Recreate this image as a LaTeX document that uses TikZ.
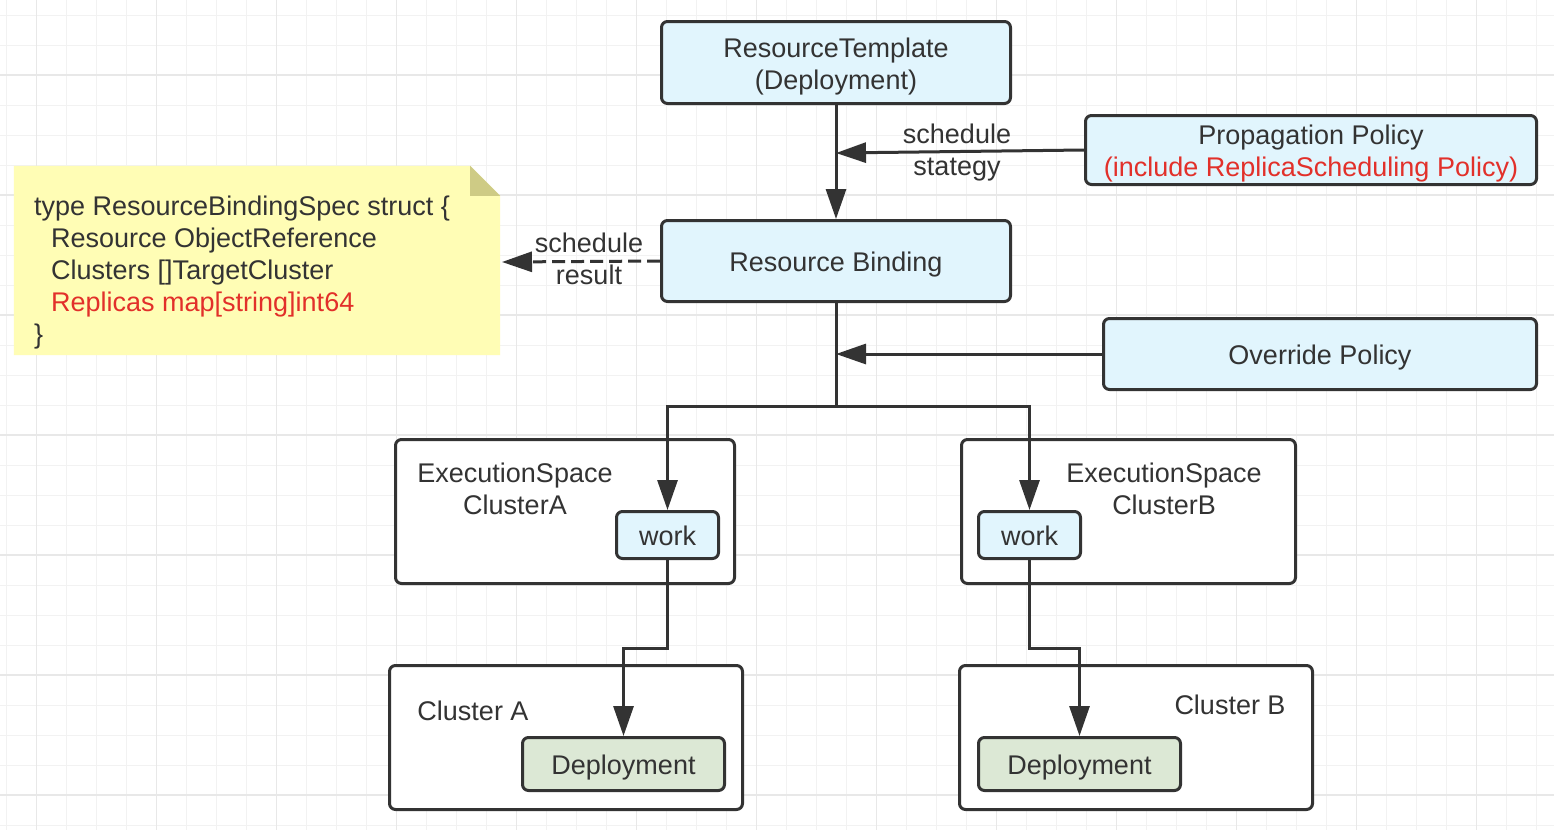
\documentclass[tikz,border=0pt]{standalone}
\usepackage{fontspec}
\setmainfont{Liberation Sans}
\usetikzlibrary{arrows.meta,calc}
\definecolor{ink}{HTML}{333333}
\definecolor{boxblue}{HTML}{E1F5FD}
\definecolor{depgreen}{HTML}{DCE8D5}
\definecolor{notey}{HTML}{FFFDB5}
\definecolor{notefold}{HTML}{CECB85}
\definecolor{redtxt}{HTML}{E2302A}
\definecolor{gridminor}{HTML}{F2F2F2}
\definecolor{gridmajor}{HTML}{E8E8E8}
\tikzset{
  box/.style={draw=ink, line width=3pt, rounded corners=6pt, inner sep=0pt},
  bluebox/.style={box, fill=boxblue},
  greenbox/.style={box, fill=depgreen},
  framebox/.style={box, fill=white},
  lbl/.style={text=ink, font=\fontsize{27}{32}\selectfont, align=center, inner sep=0pt},
  boxtext/.style={label={[lbl, yshift=-4pt]center:{#1}}},
  conn/.style={draw=ink, line width=3pt},
  arr/.style={conn, -{Triangle[length=30pt,width=20pt]}},
  gminor/.style={gridminor, line width=1pt},
  gmajor/.style={gridmajor, line width=1.2pt}
}
\begin{document}
\begin{tikzpicture}[x=1pt,y=-1pt]
\useasboundingbox (0,0) rectangle (1554,830);
\fill[white] (0,0) rectangle (1554,830);
% grid
\foreach \i in {0,...,51} \draw[gminor] ({6.7+30*\i},0) -- ({6.7+30*\i},830);
\foreach \i in {0,...,27} \draw[gminor] (0,{15+30*\i}) -- (1554,{15+30*\i});
\foreach \i in {0,...,12} \draw[gmajor] ({36.7+120*\i},0) -- ({36.7+120*\i},830);
\foreach \i in {0,...,6} \draw[gmajor] (0,{75+120*\i}) -- (1554,{75+120*\i});

% main boxes
\node[bluebox, minimum width=349pt, minimum height=82pt, boxtext={ResourceTemplate\\(Deployment)}] (rt) at (836,62.5) {};
\node[bluebox, minimum width=349pt, minimum height=81pt, boxtext={Resource Binding}] (rb) at (836,261) {};
\node[bluebox, minimum width=451pt, minimum height=69pt, boxtext={Propagation Policy\\\textcolor{redtxt}{(include ReplicaScheduling Policy)}}] (pp) at (1311,150) {};
\node[bluebox, minimum width=433pt, minimum height=71pt, boxtext={Override Policy}] (op) at (1320,354) {};

% note
\node[minimum width=486pt, minimum height=189pt, inner sep=0pt] (note) at (257,260.5) {};
\fill[notey] (note.north west) -- ($(note.north east)+(-30,0)$) -- ($(note.north east)+(0,30)$) -- (note.south east) -- (note.south west) -- cycle;
\fill[notefold] ($(note.north east)+(-30,0)$) -- ($(note.north east)+(0,30)$) -- ($(note.north east)+(-30,30)$) -- cycle;
\node[lbl, align=left, anchor=west] (notetxt) at (34,273) {type ResourceBindingSpec struct \{\\
\hspace*{17pt}Resource ObjectReference\\
\hspace*{17pt}Clusters []TargetCluster\\
\hspace*{17pt}\textcolor{redtxt}{Replicas map[string]int64}\\
\}};

% execution spaces and clusters
\node[framebox, minimum width=339pt, minimum height=144pt] (esA) at (565,511.5) {};
\node[lbl] (esAt) at (515,489) {ExecutionSpace\\ClusterA};
\node[bluebox, minimum width=102pt, minimum height=47pt, label={[lbl, yshift=-1pt]center:work}] (workA) at (667.5,535) {};
\node[framebox, minimum width=353pt, minimum height=144pt] (clA) at (566,737.5) {};
\node[lbl] (clAt) at (473,711) {Cluster A};
\node[greenbox, minimum width=202pt, minimum height=53pt, boxtext={Deployment}] (depA) at (623.5,764) {};

\node[framebox, minimum width=334pt, minimum height=144pt] (esB) at (1128.5,511.5) {};
\node[lbl] (esBt) at (1164,489) {ExecutionSpace\\ClusterB};
\node[bluebox, minimum width=102pt, minimum height=47pt, label={[lbl, yshift=-1pt]center:work}] (workB) at (1029.5,535) {};
\node[framebox, minimum width=353pt, minimum height=144pt] (clB) at (1136,737.5) {};
\node[lbl] (clBt) at (1230,705) {Cluster B};
\node[greenbox, minimum width=202pt, minimum height=53pt, boxtext={Deployment}] (depB) at (1079.5,764) {};

% junction coordinates
\coordinate (j1) at (836,153);
\coordinate (j2) at (836,354);
\coordinate (split) at (836,406);
\coordinate (noteE) at (502,262);
\coordinate (bendA) at (623.5,648);
\coordinate (bendB) at (1079.5,648);

% connectors
\draw[arr] (rt.south) -- (rb.north);
\draw[arr] (pp.west) -- (j1);
\draw[arr, dash pattern=on 13pt off 6pt] (rb.west) -- (noteE);
\draw[conn] (rb.south) -- (split);
\draw[arr] (op.west) -- (j2);
\draw[arr] (split) -| (workA.north);
\draw[arr] (split) -| (workB.north);
\draw[arr] (workA.south) |- (bendA) -- (depA.north);
\draw[arr] (workB.south) |- (bendB) -- (depB.north);

% connector labels
\node[lbl] (lblS) at (957,153) {schedule\\stategy};
\node[lbl] (lblR) at (589,259) {schedule\\result};
\end{tikzpicture}
\end{document}
